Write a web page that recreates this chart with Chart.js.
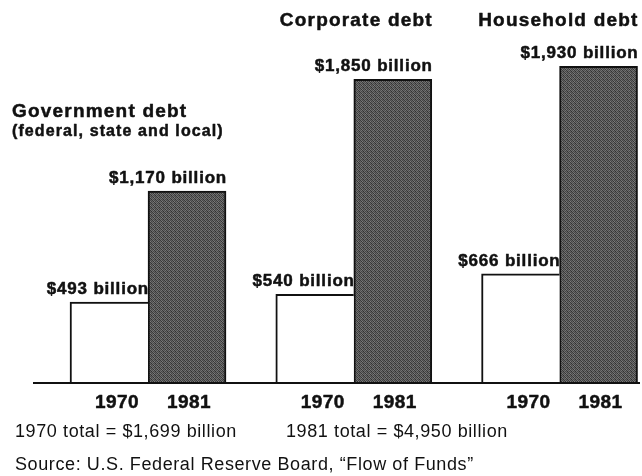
<!DOCTYPE html>
<html>
<head>
<meta charset="utf-8">
<script src="https://cdn.jsdelivr.net/npm/chart.js@4"></script>
<style>
  html, body { margin: 0; padding: 0; background: #fff; }
  #wrap { width: 642px; height: 476px; position: relative; }
</style>
</head>
<body>
<div id="wrap"><canvas id="debtChart"></canvas></div>
<script>
const categories = ["Government debt", "Corporate debt", "Household debt"];
const years = ["1970", "1981"];
const debt1970 = [493, 540, 666];
const debt1981 = [1170, 1850, 1930];
const totals = ["1970 total = $1,699 billion", "1981 total = $4,950 billion"];
const subtitle = "(federal, state and local)";
const source = "Source: U.S. Federal Reserve Board, \u201cFlow of Funds\u201d";

const FONT = "'Liberation Sans', Arial, sans-serif";

// speckled grey fill for the 1981 bars
function makeStipple() {
  const c = document.createElement("canvas");
  c.width = 4; c.height = 4;
  const g = c.getContext("2d");
  const tones = [
    [60, 115, 72, 98],
    [104, 52, 124, 66],
    [78, 118, 58, 108],
    [112, 70, 100, 48]
  ];
  tones.forEach((row, j) => row.forEach((t, i) => {
    g.fillStyle = `rgb(${t},${t},${t})`;
    g.fillRect(i, j, 1, 1);
  }));
  return c;
}

const ctx = document.getElementById("debtChart").getContext("2d");
const stipple = ctx.createPattern(makeStipple(), "repeat");

// heavy text: fill plus a thin stroke, like the old print type
function heavyText(ctx, text, x, y) {
  ctx.fillText(text, x, y);
  ctx.strokeText(text, x, y);
}

const labelPlugin = {
  id: "debtLabels",
  afterDraw(chart) {
    const { ctx, chartArea, scales } = chart;
    const y0 = scales.y.getPixelForValue(0);
    ctx.save();

    // baseline
    ctx.strokeStyle = "#111";
    ctx.lineWidth = 2;
    ctx.beginPath();
    ctx.moveTo(chartArea.left, y0);
    ctx.lineTo(chartArea.right, y0);
    ctx.stroke();

    ctx.fillStyle = "#111";
    ctx.strokeStyle = "#111";
    ctx.lineWidth = 0.5;
    ctx.lineJoin = "round";
    const yearShift = [8, 2];
    chart.data.datasets.forEach((ds, d) => {
      const meta = chart.getDatasetMeta(d);
      meta.data.forEach((bar, i) => {
        const right = bar.x + bar.width / 2;
        // value label above each bar
        ctx.font = `bold 17px ${FONT}`;
        ctx.letterSpacing = "0.8px";
        ctx.textAlign = "right";
        ctx.textBaseline = "alphabetic";
        heavyText(ctx, "$" + ds.data[i].y.toLocaleString("en-US") + " billion", right + 1, bar.y - 8);
        // year under each bar
        ctx.font = `bold 19px ${FONT}`;
        ctx.letterSpacing = "0.5px";
        ctx.textAlign = "center";
        heavyText(ctx, years[d], bar.x + yearShift[d], y0 + 25);
      });
    });

    // group titles
    const last = chart.getDatasetMeta(1).data;
    ctx.font = `bold 19px ${FONT}`;
    ctx.letterSpacing = "1.2px";
    ctx.textAlign = "left";
    heavyText(ctx, categories[0], 12, 117);
    ctx.font = `bold 16px ${FONT}`;
    ctx.letterSpacing = "1.1px";
    heavyText(ctx, subtitle, 12, 136);
    ctx.font = `bold 19px ${FONT}`;
    ctx.letterSpacing = "1.2px";
    ctx.textAlign = "right";
    for (let i = 1; i < categories.length; i++) {
      const b = last[i];
      heavyText(ctx, categories[i], b.x + b.width / 2 + 1, 26);
    }

    // totals and source
    ctx.font = `18px ${FONT}`;
    ctx.letterSpacing = "0.6px";
    ctx.textAlign = "left";
    ctx.fillText(totals[0], 15, 437);
    ctx.fillText(totals[1], 286, 437);
    ctx.fillText(source, 15, 470);
    ctx.restore();
  }
};

new Chart(ctx, {
  type: "bar",
  data: {
    datasets: [
      {
        label: years[0],
        data: debt1970.map((v, i) => ({ x: i, y: v })),
        backgroundColor: "#ffffff",
        borderColor: "#111",
        borderWidth: { left: 2, top: 2, right: 0, bottom: 0 },
        borderSkipped: false,
        barThickness: 78
      },
      {
        label: years[1],
        data: debt1981.map((v, i) => ({ x: i, y: v })),
        backgroundColor: stipple,
        borderColor: "#111",
        borderWidth: { left: 2, top: 2, right: 2, bottom: 0 },
        borderSkipped: false,
        barThickness: 78
      }
    ]
  },
  options: {
    responsive: true,
    maintainAspectRatio: false,
    animation: false,
    layout: { padding: { left: 33, right: 2, top: 22, bottom: 93 } },
    plugins: { legend: { display: false }, tooltip: { enabled: false } },
    scales: {
      x: { type: "linear", min: -0.559, max: 2.391, offset: false, display: false },
      y: { min: 0, max: 2200, display: false }
    }
  },
  plugins: [labelPlugin]
});
</script>
</body>
</html>
